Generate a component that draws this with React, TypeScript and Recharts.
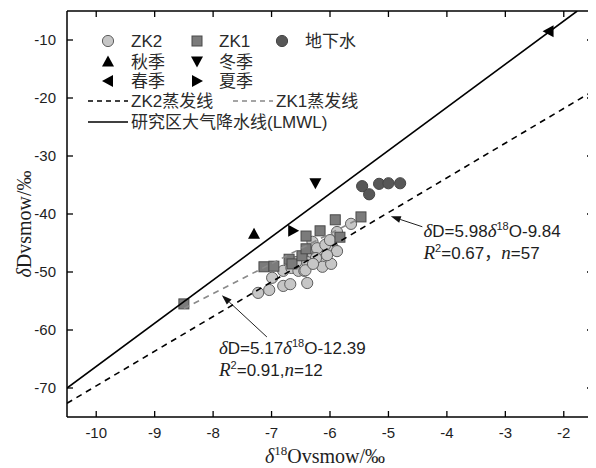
import React from "react";
import {
  ScatterChart,
  Scatter,
  XAxis,
  YAxis,
  ReferenceDot,
  ReferenceLine,
} from "recharts";

// ---------- data (δ18O, δD) ----------
const zk2Points: [number, number][] = [
  [-7.23, -53.6], [-7.04, -53.1], [-6.99, -51.0], [-6.8, -52.4], [-6.68, -52.1],
  [-6.39, -51.9], [-6.8, -49.8], [-6.66, -49.3], [-6.54, -49.8], [-6.44, -49.8],
  [-6.48, -48.4], [-6.34, -48.1], [-6.29, -46.9], [-6.22, -47.1], [-6.13, -46.6],
  [-6.05, -45.7], [-5.96, -45.7], [-5.88, -46.4], [-6.13, -47.9], [-6.13, -49.1],
  [-5.98, -48.6], [-6.3, -44.8], [-6.22, -45.9], [-6.08, -45.3], [-5.88, -43.1],
  [-5.64, -41.7], [-6.39, -48.3], [-6.24, -47.6], [-6.05, -47.1], [-6.42, -49.7],
  [-6.29, -48.6], [-6.58, -48.3], [-6.0, -44.5],
];
const zk1Points: [number, number][] = [
  [-8.5, -55.5], [-7.13, -49.1], [-6.96, -49.0], [-6.7, -47.8], [-6.65, -48.6],
  [-6.48, -47.2], [-6.41, -46.0], [-6.41, -43.8], [-6.17, -42.9], [-5.91, -41.0],
  [-5.83, -44.0], [-5.47, -40.5],
];
const groundwaterPoints: [number, number][] = [
  [-5.45, -35.2], [-5.33, -36.6], [-5.16, -34.8], [-5.0, -34.7], [-4.8, -34.7],
];
const autumnPoints: [number, number][] = [[-7.3, -43.4]];
const winterPoints: [number, number][] = [[-6.25, -34.7]];
const springPoints: [number, number][] = [[-2.26, -8.5]];
const summerPoints: [number, number][] = [[-6.63, -42.9]];

const lmwlLine: [number, number][] = [[-10.5, -70.0], [-1.77, -5.0]];
const zk2Line: [number, number][] = [[-10.5, -72.63], [-1.5, -18.81]];
const zk1Line: [number, number][] = [[-8.5, -56.3], [-5.5, -40.8]];

const xTicks = [-10, -9, -8, -7, -6, -5, -4, -3, -2];
const yTicks = [-70, -60, -50, -40, -30, -20, -10];
const xDomain: [number, number] = [-10.5, -1.5];
const yDomain: [number, number] = [-75, -5];

// annotation anchors (data coords)
const zk2Label = { x: -4.4, y: -43.97 };
const zk2Arrow: [number, number][] = [[-4.42, -42.2], [-4.96, -40.4]];
const zk1Label = { x: -7.9, y: -64.1 };
const zk1Arrow: [number, number][] = [[-7.08, -61.2], [-7.85, -54.0]];

const toObj = (arr: [number, number][]) => arr.map(([x, y]) => ({ x, y }));

const SANS = "'Liberation Sans', Arial, sans-serif";
const SERIF = "'Liberation Serif', 'Times New Roman', serif";
const CJK = "'Liberation Sans', 'Noto Sans CJK SC', sans-serif";
const TXT = "#1e1e1e";

// ---------- shapes ----------
const grayCircle = (p: any) => (
  <circle cx={p.cx} cy={p.cy} r={5.6} fill="#c6c6c6" stroke="#5e5e5e" strokeWidth={1} />
);
const darkCircle = (p: any) => (
  <circle cx={p.cx} cy={p.cy} r={5.6} fill="#575757" stroke="#454545" strokeWidth={1} />
);
const square = (p: any) => (
  <rect x={p.cx - 5} y={p.cy - 5} width={10} height={10} fill="#7b7b7b" stroke="#4a4a4a" strokeWidth={1} />
);
const triUp = (p: any) => (
  <polygon points={`${p.cx},${p.cy - 6} ${p.cx - 6},${p.cy + 5} ${p.cx + 6},${p.cy + 5}`} fill="#000" />
);
const triDown = (p: any) => (
  <polygon points={`${p.cx},${p.cy + 6} ${p.cx - 6},${p.cy - 5} ${p.cx + 6},${p.cy - 5}`} fill="#000" />
);
const triLeft = (p: any) => (
  <polygon points={`${p.cx - 6},${p.cy} ${p.cx + 5},${p.cy - 6} ${p.cx + 5},${p.cy + 6}`} fill="#000" />
);
const triRight = (p: any) => (
  <polygon points={`${p.cx + 6},${p.cy} ${p.cx - 5},${p.cy - 6} ${p.cx - 5},${p.cy + 6}`} fill="#000" />
);
const noShape = () => <g />;

// ---------- ticks (inward) ----------
const BottomTick = (p: any) => (
  <g>
    <line x1={p.x} x2={p.x} y1={p.y} y2={p.y - 6} stroke="#000" strokeWidth={1.3} />
    <text x={p.x} y={p.y + 21} textAnchor="middle" fontSize={15} fontFamily={SANS} fill={TXT}>
      {p.payload.value}
    </text>
  </g>
);
const LeftTick = (p: any) => (
  <g>
    <line x1={p.x} x2={p.x + 6} y1={p.y} y2={p.y} stroke="#000" strokeWidth={1.3} />
    <text x={p.x - 11} y={p.y + 5} textAnchor="end" fontSize={15} fontFamily={SANS} fill={TXT}>
      {p.payload.value}
    </text>
  </g>
);
const TopTick = (p: any) => (
  <line x1={p.x} x2={p.x} y1={p.y} y2={p.y + 6} stroke="#000" strokeWidth={1.3} />
);
const RightTick = (p: any) => (
  <line x1={p.x} x2={p.x - 6} y1={p.y} y2={p.y} stroke="#000" strokeWidth={1.3} />
);

const Arrow = (p: any) => {
  const { x1, y1, x2, y2 } = p;
  const ang = Math.atan2(y2 - y1, x2 - x1);
  const L = 10, W = 3.5;
  const bx = x2 - L * Math.cos(ang), by = y2 - L * Math.sin(ang);
  const nx = -Math.sin(ang) * W, ny = Math.cos(ang) * W;
  return (
    <g>
      <line x1={x1} y1={y1} x2={bx} y2={by} stroke="#222" strokeWidth={1} />
      <polygon points={`${x2},${y2} ${bx + nx},${by + ny} ${bx - nx},${by - ny}`} fill="#111" />
    </g>
  );
};

const EqLabel = (eq: { a: string; b: string; r2: string; n: string; comma: string }) => (p: any) => {
  const { cx, cy } = p;
  return (
    <text x={cx} y={cy} fontSize={17} fill={TXT} fontFamily={SANS}>
      <tspan fontFamily={SERIF} fontStyle="italic" fontSize={19}>δ</tspan>
      <tspan>D={eq.a}</tspan>
      <tspan fontFamily={SERIF} fontStyle="italic" fontSize={19}>δ</tspan>
      <tspan fontSize={11} dy={-7}>18</tspan>
      <tspan dy={7}>O-{eq.b}</tspan>
      <tspan x={cx} dy={22} fontFamily={SERIF} fontStyle="italic" fontSize={19}>R</tspan>
      <tspan fontSize={11} dy={-7}>2</tspan>
      <tspan dy={7} fontFamily={CJK}>={eq.r2}{eq.comma}</tspan>
      <tspan fontFamily={SERIF} fontStyle="italic" fontSize={19}>n</tspan>
      <tspan>={eq.n}</tspan>
    </text>
  );
};

const XLabel = (p: any) => {
  const vb = p.viewBox;
  const cx = vb.x + vb.width / 2 - 5;
  return (
    <text x={cx} y={vb.y + 46} textAnchor="middle" fontSize={20} fontFamily={SERIF} fill={TXT}>
      <tspan fontStyle="italic">δ</tspan>
      <tspan fontSize={13} dy={-8}>18</tspan>
      <tspan dy={8}>Ovsmow/‰</tspan>
    </text>
  );
};
const YLabel = (p: any) => {
  const vb = p.viewBox;
  const cy = vb.y + vb.height / 2 + 10;
  const x = 16;
  return (
    <text
      x={x}
      y={cy}
      transform={`rotate(-90, ${x}, ${cy})`}
      textAnchor="middle"
      dominantBaseline="central"
      fontSize={20}
      fontFamily={SERIF}
      fill={TXT}
    >
      <tspan fontStyle="italic">δ</tspan>
      <tspan>Dvsmow/‰</tspan>
    </text>
  );
};

// ---------- legend overlay (page coords minus 8px body margin) ----------
const Legend = () => {
  const o = 8;
  const rows = [41, 61.5, 81, 101, 122].map((v) => v - o);
  const sx1 = 108 - o, sx2 = 197 - o, sx3 = 282 - o;
  const tx1 = 131 - o, tx2 = 219 - o, tx3 = 305 - o;
  const fs = 17;
  const T = (x: number, y: number, s: string) => (
    <text x={x} y={y + 6} fontSize={fs} fontFamily={CJK} fill="#2a2a2a">{s}</text>
  );
  return (
    <svg width={588} height={460} style={{ position: "absolute", left: 0, top: 0, pointerEvents: "none" }}>
      {grayCircle({ cx: sx1, cy: rows[0] })}
      {T(tx1, rows[0], "ZK2")}
      {square({ cx: sx2, cy: rows[0] })}
      {T(tx2, rows[0], "ZK1")}
      {darkCircle({ cx: sx3, cy: rows[0] })}
      {T(tx3, rows[0], "地下水")}
      {triUp({ cx: sx1, cy: rows[1] })}
      {T(tx1, rows[1], "秋季")}
      {triDown({ cx: sx2, cy: rows[1] })}
      {T(tx2, rows[1], "冬季")}
      {triLeft({ cx: sx1, cy: rows[2] })}
      {T(tx1, rows[2], "春季")}
      {triRight({ cx: sx2, cy: rows[2] })}
      {T(tx2, rows[2], "夏季")}
      <line x1={88 - o} x2={128 - o} y1={rows[3]} y2={rows[3]} stroke="#000" strokeWidth={1.5} strokeDasharray="5 4" />
      {T(tx1, rows[3], "ZK2蒸发线")}
      <line x1={233 - o} x2={273 - o} y1={rows[3]} y2={rows[3]} stroke="#888" strokeWidth={1.5} strokeDasharray="5 4" />
      {T(276 - o, rows[3], "ZK1蒸发线")}
      <line x1={88 - o} x2={128 - o} y1={rows[4]} y2={rows[4]} stroke="#000" strokeWidth={1.5} />
      {T(tx1, rows[4], "研究区大气降水线(LMWL)")}
    </svg>
  );
};

export default function App() {
  return (
    <div style={{ position: "relative", width: 588, height: 460 }}>
      <ScatterChart width={588} height={460} margin={{ top: 2, right: 2, left: 9, bottom: 11 }}>
        <XAxis
          xAxisId="b"
          type="number"
          dataKey="x"
          domain={xDomain}
          ticks={xTicks}
          interval={0}
          allowDataOverflow
          orientation="bottom"
          height={40}
          tickSize={0}
          tickMargin={0}
          tickLine={false}
          tick={<BottomTick />}
          axisLine={{ stroke: "#000", strokeWidth: 1.5 }}
          label={<XLabel />}
        />
        <XAxis
          xAxisId="t"
          type="number"
          dataKey="x"
          domain={xDomain}
          ticks={xTicks}
          interval={0}
          allowDataOverflow
          orientation="top"
          height={1}
          tickSize={0}
          tickMargin={0}
          tickLine={false}
          tick={<TopTick />}
          axisLine={{ stroke: "#000", strokeWidth: 1.5 }}
        />
        <YAxis
          yAxisId="l"
          type="number"
          dataKey="y"
          domain={yDomain}
          ticks={yTicks}
          interval={0}
          allowDataOverflow
          orientation="left"
          width={50}
          tickSize={0}
          tickMargin={0}
          tickLine={false}
          tick={<LeftTick />}
          axisLine={{ stroke: "#000", strokeWidth: 1.5 }}
          label={<YLabel />}
        />
        <YAxis
          yAxisId="r"
          type="number"
          dataKey="y"
          domain={yDomain}
          ticks={yTicks}
          interval={0}
          allowDataOverflow
          orientation="right"
          width={1}
          tickSize={0}
          tickMargin={0}
          tickLine={false}
          tick={<RightTick />}
          axisLine={{ stroke: "#000", strokeWidth: 1.5 }}
        />

        <Scatter xAxisId="b" yAxisId="l" data={toObj(zk2Points)} shape={grayCircle} isAnimationActive={false} />
        <Scatter xAxisId="b" yAxisId="l" data={toObj(zk1Points)} shape={square} isAnimationActive={false} />
        <Scatter xAxisId="b" yAxisId="l" data={toObj(groundwaterPoints)} shape={darkCircle} isAnimationActive={false} />
        <Scatter xAxisId="b" yAxisId="l" data={toObj(autumnPoints)} shape={triUp} isAnimationActive={false} />
        <Scatter xAxisId="b" yAxisId="l" data={toObj(winterPoints)} shape={triDown} isAnimationActive={false} />
        <Scatter xAxisId="b" yAxisId="l" data={toObj(springPoints)} shape={triLeft} isAnimationActive={false} />
        <Scatter xAxisId="b" yAxisId="l" data={toObj(summerPoints)} shape={triRight} isAnimationActive={false} />

        <Scatter
          xAxisId="b" yAxisId="l"
          data={toObj(lmwlLine)}
          line={{ stroke: "#000", strokeWidth: 1.6 }}
          shape={noShape}
          isAnimationActive={false}
        />
        <Scatter
          xAxisId="b" yAxisId="l"
          data={toObj(zk2Line)}
          line={{ stroke: "#000", strokeWidth: 1.6, strokeDasharray: "6 5" }}
          shape={noShape}
          isAnimationActive={false}
        />
        <Scatter
          xAxisId="b" yAxisId="l"
          data={toObj(zk1Line)}
          line={{ stroke: "#8a8a8a", strokeWidth: 1.6, strokeDasharray: "6 5" }}
          shape={noShape}
          isAnimationActive={false}
        />

        <ReferenceLine
          xAxisId="b" yAxisId="l"
          segment={toObj(zk2Arrow)}
          shape={Arrow}
        />
        <ReferenceLine
          xAxisId="b" yAxisId="l"
          segment={toObj(zk1Arrow)}
          shape={Arrow}
        />
        <ReferenceDot
          xAxisId="b" yAxisId="l"
          x={zk2Label.x}
          y={zk2Label.y}
          shape={EqLabel({ a: "5.98", b: "9.84", r2: "0.67", n: "57", comma: "，" })}
        />
        <ReferenceDot
          xAxisId="b" yAxisId="l"
          x={zk1Label.x}
          y={zk1Label.y}
          shape={EqLabel({ a: "5.17", b: "12.39", r2: "0.91", n: "12", comma: "," })}
        />
      </ScatterChart>
      <Legend />
    </div>
  );
}
